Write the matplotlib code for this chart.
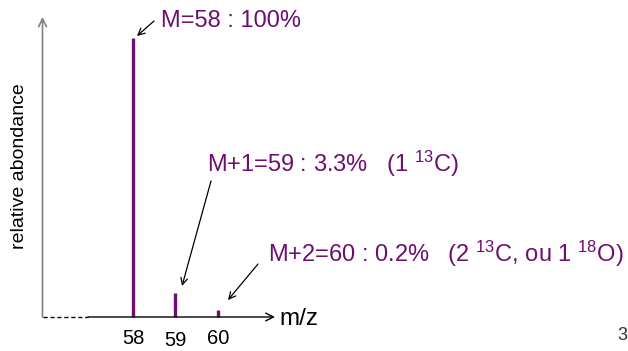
import matplotlib
matplotlib.use("Agg")
import matplotlib.pyplot as plt

plt.rcParams['font.family'] = ['Liberation Sans', 'DejaVu Sans']
plt.rcParams['mathtext.fontset'] = 'custom'
plt.rcParams['mathtext.rm'] = 'Liberation Sans'

# Data (bar heights as drawn, relative to M peak)
mz = [58, 59, 60]
heights = [100, 8.7, 2.5]
tick_labels = ["58", "59", "60"]
labels = ["M=58 : 100%",
          r"M+1=59 : 3.3%   (1 $\mathregular{^{13}}$C)",
          r"M+2=60 : 0.2%   (2 $\mathregular{^{13}}$C, ou 1 $\mathregular{^{18}}$O)"]

W, H = 628, 351
purple = '#6c0f70'

fig = plt.figure(figsize=(W / 100, H / 100), dpi=100)
ax = fig.add_axes([0, 0, 1, 1])
ax.set_axis_off()

# pixel -> data mapping helpers (for layout only)
x0p, sx = 133.0, 42.35
y0p, sy = 317.0, 2.79
def px(p):
    return 58 + (p - x0p) / sx
def py(q):
    return (y0p - q) / sy

ax.set_xlim(px(0), px(W))
ax.set_ylim(py(H), py(0))

# Bars
ax.vlines(mz, 0, heights, colors=purple, linewidth=2.4)

# y axis (gray, arrow)
ax.annotate("", xy=(px(42.5), py(17)), xytext=(px(42.5), py(317)),
            arrowprops=dict(arrowstyle="->", color="#7f7f7f", lw=1.2,
                            shrinkA=0, shrinkB=0, mutation_scale=14))
# x axis: dashed part then solid with arrow
ax.plot([px(42.5), px(88)], [0, 0], color="black", lw=1.0, ls=(0, (3, 2)))
ax.annotate("", xy=(px(275), 0), xytext=(px(88), 0),
            arrowprops=dict(arrowstyle="->", color="black", lw=1.0,
                            shrinkA=0, shrinkB=0, mutation_scale=14))
ax.text(px(279), py(319), "m/z", fontsize=17.5, va="center", ha="left", color="black")

# tick labels
tick_y = [338, 341, 338]
for m, t, ty in zip(mz, tick_labels, tick_y):
    ax.text(m, py(ty), t, fontsize=14.5, ha="center", va="center", color="black")

# y label
ax.text(px(20), py(166), "relative abondance", rotation=90, fontsize=14,
        ha="center", va="center", color="black")

# annotations
text_pos = [(161, 27), (207, 172), (268, 262)]
arrow_from = [(154, 21), (211, 181), (258, 264)]
arrow_to = [(137, 36), (182, 286), (228, 300)]
for lab, (tx, ty), (ax0, ay0), (ax1, ay1) in zip(labels, text_pos, arrow_from, arrow_to):
    ax.text(px(tx), py(ty), lab, fontsize=17, color=purple, ha="left", va="baseline")
    ax.annotate("", xy=(px(ax1), py(ay1)), xytext=(px(ax0), py(ay0)),
                arrowprops=dict(arrowstyle="->", color="black", lw=0.9,
                                shrinkA=0, shrinkB=0, mutation_scale=12))

# slide number
ax.text(px(617), py(336), "3", fontsize=13, ha="left", va="center", color="#333333")

fig.savefig("out.png", dpi=100)
